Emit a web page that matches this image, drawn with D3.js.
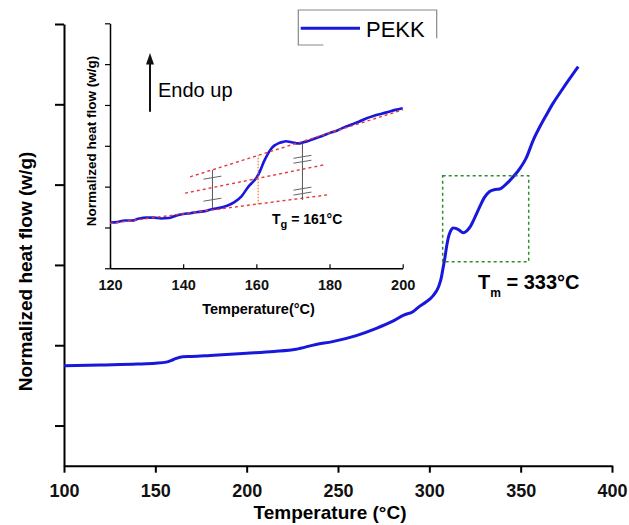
<!DOCTYPE html>
<html>
<head>
<meta charset="utf-8">
<script src="https://cdn.jsdelivr.net/npm/d3@7"></script>
<style>
  body { margin: 0; background: #fff; }
  text { font-family: Arial, "Liberation Sans", sans-serif; }
</style>
</head>
<body>
<script>
// main DSC trace (arbitrary heat flow units, unlabeled axis)
var mainTemp = [100, 120, 140, 150, 156, 160, 165, 170, 180, 200, 215, 227, 238, 247, 260, 271, 280, 286, 291, 295,
    298, 302, 305, 306.5, 307.5, 308.5, 309.5, 310.5, 311.5, 313, 314.5, 316.5, 318.5, 320.5, 322.5, 325, 327.5, 330,
    333, 336, 338.5, 341, 344, 347, 350, 353, 356.9, 360.5, 364, 367.8, 371, 375, 381.5];
var mainFlow = [2.49, 2.51, 2.53, 2.55, 2.58, 2.645, 2.715, 2.72, 2.745, 2.80, 2.845, 2.90, 3.02, 3.09, 3.24, 3.42, 3.60, 3.75, 3.835, 3.98,
    4.07, 4.23, 4.45, 4.67, 4.92, 5.17, 5.47, 5.70, 5.83, 5.92, 5.91, 5.86, 5.80, 5.85, 5.96, 6.19, 6.44, 6.67,
    6.83, 6.88, 6.89, 6.97, 7.10, 7.25, 7.43, 7.66, 8.11, 8.44, 8.73, 9.03, 9.25, 9.52, 9.94];

// inset: glass transition zoom
var insetTemp = [120, 122, 124, 126, 128, 130, 132, 134, 136, 138, 140, 142, 144, 146, 148, 150, 152, 154, 156, 158, 159, 160,
    161, 162, 163, 164, 165, 166, 167, 168, 169, 170, 171, 172, 173, 174, 176, 178, 180, 182, 184, 186, 188, 190, 192, 194, 196, 198, 200];
var insetFlow = [1.12, 1.13, 1.17, 1.17, 1.22, 1.24, 1.24, 1.22, 1.23, 1.29, 1.33, 1.35, 1.38, 1.40, 1.45, 1.48, 1.53, 1.62, 1.77, 2.02, 2.11, 2.21,
    2.38, 2.60, 2.78, 2.92, 3.01, 3.06, 3.09, 3.11, 3.10, 3.08, 3.06, 3.06, 3.09, 3.11, 3.18, 3.24, 3.31, 3.37, 3.45, 3.52, 3.59, 3.67, 3.73, 3.78, 3.83, 3.88, 3.92];

// tangent construction lines [T1, v1, T2, v2]
var tangentLines = [
    [120, 1.10, 179.6, 1.80],
    [140.5, 1.84, 178.3, 2.53],
    [141.9, 2.24, 200, 3.88]
];
var tgLine = [160.5, 1.57, 2.77];
var grayBars = [[148, 1.48, 2.41], [172.6, 1.67, 3.06]];
var grayMarks = [[148, 2.22], [148, 1.68], [172.6, 2.73], [172.6, 2.61], [172.6, 1.95], [172.6, 1.83]];

var mainXTicks = [100, 150, 200, 250, 300, 350, 400];
var mainXMinor = [125, 175, 225, 275, 325, 375];
var mainYTicks = [1, 3, 5, 7, 9, 11];
var mainYMinor = [2, 4, 6, 8, 10];
var insetXTicks = [120, 140, 160, 180, 200];
var insetXMinor = [130, 150, 170, 190];
var insetYTicks = [0, 1, 2, 3, 4, 5, 6];
var insetYMinor = [0.5, 1.5, 2.5, 3.5, 4.5, 5.5];

var meltBox = [307.3, 354.4, 5.08, 7.22];

var w = 629, h = 525;
var blue = '#1818dd';

var svg = d3.select('body').append('svg')
    .attr('width', w)
    .attr('height', h);

var x = d3.scaleLinear().domain([100, 400]).range([64, 612]);
var y = d3.scaleLinear().domain([0, 11]).range([465.7, 24]);

var xi = d3.scaleLinear().domain([120, 200]).range([110, 402.7]);
var yi = d3.scaleLinear().domain([0, 6]).range([268.3, 23.3]);

function pairs(xs, ys) {
    return xs.map(function (t, i) { return [t, ys[i]]; });
}

// ---------- main axes ----------
var gx = svg.append('g').attr('transform', 'translate(0,465.7)');
gx.call(d3.axisBottom(x).tickValues(mainXMinor).tickSize(5).tickSizeOuter(0).tickFormat(''));
gx.call(d3.axisBottom(x).tickValues(mainXTicks).tickSize(7).tickSizeOuter(0));
gx.selectAll('path.domain').attr('stroke-width', 2);
gx.selectAll('line').attr('stroke-width', 2);
gx.selectAll('text')
    .attr('y', 31).attr('dy', null)
    .attr('font-size', 18).attr('font-weight', 'bold').attr('fill', '#111');

var gy = svg.append('g').attr('transform', 'translate(64,0)');
gy.call(d3.axisLeft(y).tickValues(mainYMinor).tickSize(5).tickSizeOuter(0).tickFormat(''));
gy.call(d3.axisLeft(y).tickValues(mainYTicks).tickSize(9).tickSizeOuter(0).tickFormat(''));
gy.selectAll('path.domain').attr('stroke-width', 2);
gy.selectAll('line').attr('stroke-width', 2);

svg.append('text')
    .attr('x', 330).attr('y', 519)
    .attr('text-anchor', 'middle')
    .attr('font-size', 19).attr('font-weight', 'bold')
    .text('Temperature (°C)');

svg.append('text')
    .attr('transform', 'translate(32,271.5) rotate(-90)')
    .attr('text-anchor', 'middle')
    .attr('font-size', 19).attr('font-weight', 'bold')
    .text('Normalized heat flow (w/g)');

// ---------- main curve ----------
var line = d3.line()
    .x(function (d) { return x(d[0]); })
    .y(function (d) { return y(d[1]); })
    .curve(d3.curveMonotoneX);

svg.append('path')
    .datum(pairs(mainTemp, mainFlow))
    .attr('d', line)
    .attr('fill', 'none')
    .attr('stroke', blue)
    .attr('stroke-width', 3);

// melting region box
svg.append('rect')
    .attr('x', x(meltBox[0])).attr('y', y(meltBox[3]))
    .attr('width', x(meltBox[1]) - x(meltBox[0]))
    .attr('height', y(meltBox[2]) - y(meltBox[3]))
    .attr('fill', 'none')
    .attr('stroke', '#2e8b2e')
    .attr('stroke-width', 1.5)
    .attr('stroke-dasharray', '3,3');

var tm = svg.append('text')
    .attr('x', 478).attr('y', 288.5)
    .attr('font-size', 20).attr('font-weight', 'bold');
tm.append('tspan').text('T');
tm.append('tspan').attr('dy', 8).attr('font-size', 12).text('m');
tm.append('tspan').attr('dy', -8).text(' = 333°C');

// legend (box is partly cut off in the original)
svg.append('path')
    .attr('d', 'M323.3,45H298.3V10H436.7V38.3')
    .attr('fill', 'none')
    .attr('stroke', '#888')
    .attr('stroke-width', 1.2);
svg.append('line')
    .attr('x1', 300.7).attr('x2', 360)
    .attr('y1', 28.3).attr('y2', 28.3)
    .attr('stroke', blue).attr('stroke-width', 3);
svg.append('text')
    .attr('x', 366).attr('y', 36.5)
    .attr('font-size', 22)
    .text('PEKK');

// ---------- inset ----------
var ix = svg.append('g').attr('transform', 'translate(0,268.3)');
ix.call(d3.axisBottom(xi).tickValues(insetXMinor).tickSize(-3).tickSizeOuter(0).tickFormat(''));
ix.call(d3.axisBottom(xi).tickValues(insetXTicks).tickSize(-4).tickSizeOuter(0));
ix.selectAll('path.domain').attr('stroke-width', 1.5);
ix.selectAll('line').attr('stroke-width', 1.2);
ix.selectAll('text')
    .attr('y', 21.5).attr('dy', null)
    .attr('font-size', 14.5).attr('font-weight', 'bold').attr('fill', '#111');

var iy = svg.append('g').attr('transform', 'translate(110,0)');
iy.call(d3.axisLeft(yi).tickValues(insetYMinor).tickSize(3).tickSizeOuter(0).tickFormat(''));
iy.call(d3.axisLeft(yi).tickValues(insetYTicks).tickSize(5).tickSizeOuter(0).tickFormat(''));
iy.selectAll('path.domain').attr('stroke-width', 1.5);
iy.selectAll('line').attr('stroke-width', 1.2);

svg.append('text')
    .attr('x', 258.5).attr('y', 313.5)
    .attr('text-anchor', 'middle')
    .attr('font-size', 14.5).attr('font-weight', 'bold')
    .text('Temperature(°C)');

svg.append('text')
    .attr('transform', 'translate(96,141) rotate(-90)')
    .attr('text-anchor', 'middle')
    .attr('font-size', 13.5).attr('font-weight', 'bold')
    .text('Normalized heat flow (w/g)');

var iline = d3.line()
    .x(function (d) { return xi(d[0]); })
    .y(function (d) { return yi(d[1]); })
    .curve(d3.curveMonotoneX);

svg.append('path')
    .datum(pairs(insetTemp, insetFlow))
    .attr('d', iline)
    .attr('fill', 'none')
    .attr('stroke', blue)
    .attr('stroke-width', 2.6);

svg.selectAll('.tangent')
    .data(tangentLines)
    .enter().append('line')
    .attr('class', 'tangent')
    .attr('x1', function (d) { return xi(d[0]); })
    .attr('y1', function (d) { return yi(d[1]); })
    .attr('x2', function (d) { return xi(d[2]); })
    .attr('y2', function (d) { return yi(d[3]); })
    .attr('stroke', '#e8383a')
    .attr('stroke-width', 1.4)
    .attr('stroke-dasharray', '3,3');

svg.append('line')
    .attr('x1', xi(tgLine[0])).attr('x2', xi(tgLine[0]))
    .attr('y1', yi(tgLine[1])).attr('y2', yi(tgLine[2]))
    .attr('stroke', '#ee7a30')
    .attr('stroke-width', 1.2)
    .attr('stroke-dasharray', '1.5,1.5');

svg.selectAll('.gbar')
    .data(grayBars)
    .enter().append('line')
    .attr('class', 'gbar')
    .attr('x1', function (d) { return xi(d[0]); })
    .attr('x2', function (d) { return xi(d[0]); })
    .attr('y1', function (d) { return yi(d[1]); })
    .attr('y2', function (d) { return yi(d[2]); })
    .attr('stroke', '#555')
    .attr('stroke-width', 1);

svg.selectAll('.gmark')
    .data(grayMarks)
    .enter().append('line')
    .attr('class', 'gmark')
    .attr('x1', function (d) { return xi(d[0]) - 9; })
    .attr('x2', function (d) { return xi(d[0]) + 9; })
    .attr('y1', function (d) { return yi(d[1]) + 1.5; })
    .attr('y2', function (d) { return yi(d[1]) - 1.5; })
    .attr('stroke', '#666')
    .attr('stroke-width', 1);

var tg = svg.append('text')
    .attr('x', 272).attr('y', 224)
    .attr('font-size', 14).attr('font-weight', 'bold');
tg.append('tspan').text('T');
tg.append('tspan').attr('dy', 4).attr('font-size', 11).text('g');
tg.append('tspan').attr('dy', -4).text(' = 161°C');

// endo up arrow
svg.append('line')
    .attr('x1', 150).attr('x2', 150)
    .attr('y1', 111.7).attr('y2', 62)
    .attr('stroke', '#111')
    .attr('stroke-width', 2);
svg.append('path')
    .attr('d', 'M150,53L154,64.5L146,64.5Z')
    .attr('fill', '#111');

svg.append('text')
    .attr('x', 158).attr('y', 96.5)
    .attr('font-size', 20)
    .text('Endo up');
</script>
</body>
</html>
